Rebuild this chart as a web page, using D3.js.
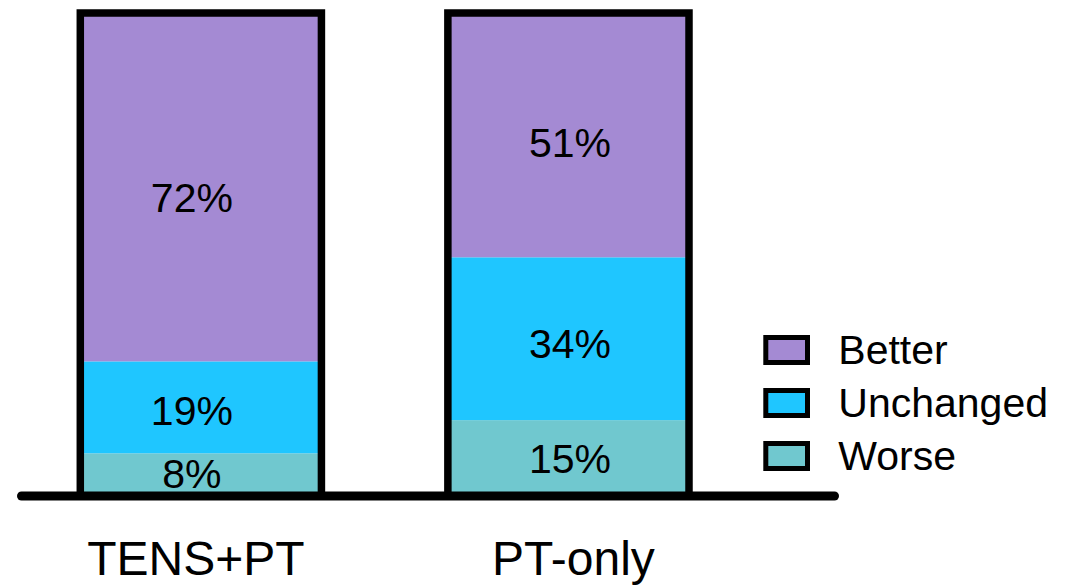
<!DOCTYPE html>
<html>
<head>
<meta charset="utf-8">
<script src="https://cdn.jsdelivr.net/npm/d3@7"></script>
<style>
  html, body { margin: 0; padding: 0; background: #ffffff; }
  svg { display: block; font-family: "Liberation Sans", Arial, sans-serif; }
</style>
</head>
<body>
<svg id="chart" width="1078" height="585"></svg>
<script>
// Outcome groups and share of patients (%) in each response category
const groups = ["TENS+PT", "PT-only"];
const outcomes = ["Worse", "Unchanged", "Better"];
const better = [72, 51];
const unchanged = [19, 34];
const worse = [8, 15];
const legendOrder = ["Better", "Unchanged", "Worse"];

const colors = {
  Better: "#a48ad3",
  Unchanged: "#1fc6ff",
  Worse: "#70c8cf"
};

const rows = groups.map((g, i) => ({
  group: g,
  Better: better[i],
  Unchanged: unchanged[i],
  Worse: worse[i]
}));

const svg = d3.select("#chart");

const x = d3.scaleBand()
  .domain(groups)
  .range([80.3, 689])
  .paddingInner(0.344)
  .paddingOuter(0);

// Each bar is stacked to its own total
const y = d3.scaleLinear().domain([0, 1]).range([492, 13]);

const stack = d3.stack()
  .keys(outcomes)
  .offset(d3.stackOffsetExpand);
const series = stack(rows);

// per-group horizontal nudges for the text
const labelShift = { "TENS+PT": -9, "PT-only": 1.5 };
const categoryShift = { "TENS+PT": -5, "PT-only": 5 };

const layers = svg.append("g").attr("class", "segments")
  .selectAll("g")
  .data(series)
  .join("g")
  .attr("fill", d => colors[d.key]);

layers.selectAll("rect")
  .data(d => d)
  .join("rect")
  .attr("x", d => x(d.data.group))
  .attr("width", x.bandwidth())
  .attr("y", d => y(d[1]))
  .attr("height", d => y(d[0]) - y(d[1]));

// Bar outlines
svg.append("g").attr("class", "outlines")
  .selectAll("rect")
  .data(rows)
  .join("rect")
  .attr("x", d => x(d.group))
  .attr("width", x.bandwidth())
  .attr("y", y(1))
  .attr("height", 496 - y(1))
  .attr("fill", "none")
  .attr("stroke", "#000")
  .attr("stroke-width", 7.5);

// Segment value labels
const labelSize = 41;
svg.append("g").attr("class", "values")
  .selectAll("g")
  .data(series)
  .join("g")
  .selectAll("text")
  .data(d => d.map(s => ({ key: d.key, s })))
  .join("text")
  .attr("x", d => x(d.s.data.group) + x.bandwidth() / 2 + labelShift[d.s.data.group])
  .attr("y", d => {
    const y0 = y(d.s[0]), y1 = y(d.s[1]);
    return y0 - 0.47 * (y0 - y1) + labelSize * 0.358;
  })
  .attr("text-anchor", "middle")
  .attr("font-size", labelSize)
  .attr("fill", "#000")
  .text(d => d.s.data[d.key] + "%");

// Baseline
svg.append("line")
  .attr("x1", 21.5)
  .attr("x2", 834.5)
  .attr("y1", 496)
  .attr("y2", 496)
  .attr("stroke", "#000")
  .attr("stroke-width", 9)
  .attr("stroke-linecap", "round");

// Group names
svg.append("g").attr("class", "categories")
  .selectAll("text")
  .data(groups)
  .join("text")
  .attr("x", d => x(d) + x.bandwidth() / 2 + categoryShift[d])
  .attr("y", 575)
  .attr("text-anchor", "middle")
  .attr("font-size", 48)
  .attr("fill", "#000")
  .text(d => d);

// Legend
const legend = svg.append("g").attr("class", "legend")
  .attr("transform", "translate(765.8, 337.5)");

const item = legend.selectAll("g")
  .data(legendOrder)
  .join("g")
  .attr("transform", (d, i) => `translate(0, ${i * 53})`);

item.append("rect")
  .attr("width", 41.7)
  .attr("height", 25)
  .attr("fill", d => colors[d])
  .attr("stroke", "#000")
  .attr("stroke-width", 5);

item.append("text")
  .attr("x", 72.5)
  .attr("y", 26.5)
  .attr("font-size", 41)
  .attr("fill", "#000")
  .text(d => d);
</script>
</body>
</html>
